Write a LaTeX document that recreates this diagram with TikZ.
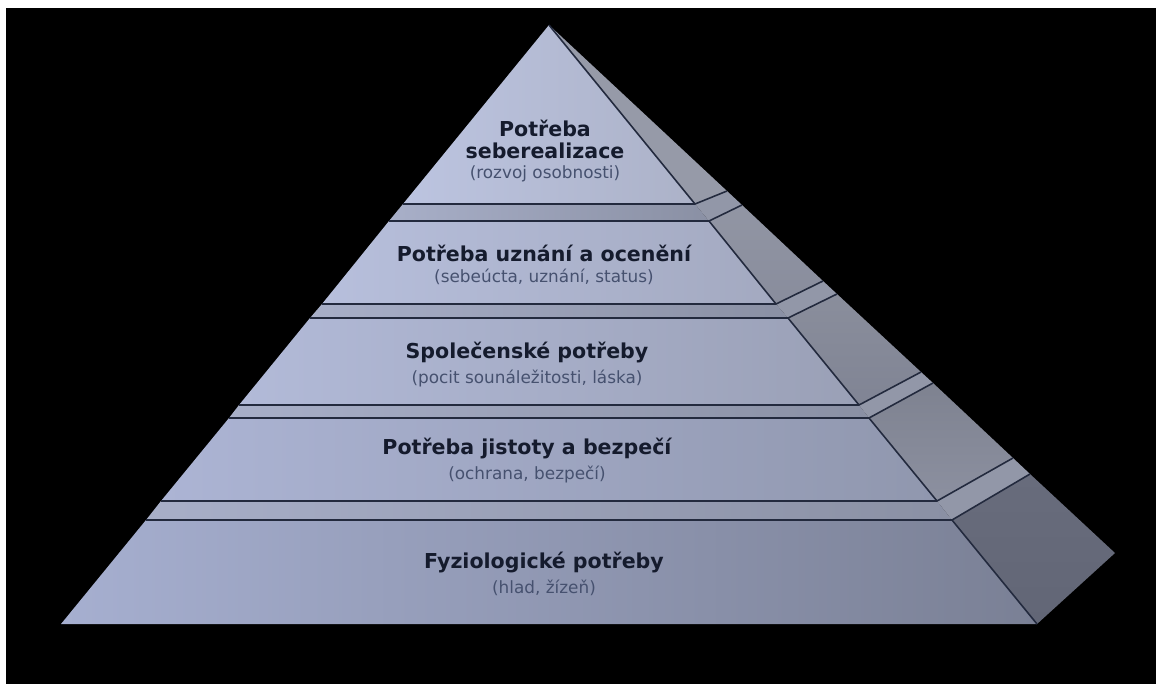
\documentclass[tikz,border=0pt]{standalone}
\usepackage{fontspec}
\setmainfont{DejaVu Sans}
\usetikzlibrary{positioning}

\definecolor{edgeline}{HTML}{232A3E}
\definecolor{titletxt}{HTML}{151B2D}
\definecolor{subtxt}{HTML}{46516F}
\definecolor{ledgel}{RGB}{168,175,200}
\definecolor{ledger}{RGB}{138,144,164}
\definecolor{ledgeside}{RGB}{146,151,168}
% front faces, left and right ends
\definecolor{faceAl}{RGB}{188,196,224} \definecolor{faceAr}{RGB}{172,178,200}
\definecolor{faceBl}{RGB}{183,191,220} \definecolor{faceBr}{RGB}{163,169,192}
\definecolor{faceCl}{RGB}{178,186,216} \definecolor{faceCr}{RGB}{154,160,182}
\definecolor{faceDl}{RGB}{172,180,212} \definecolor{faceDr}{RGB}{144,151,174}
\definecolor{faceEl}{RGB}{166,175,208} \definecolor{faceEr}{RGB}{122,128,149}
% side faces, top and bottom
\definecolor{sideA}{RGB}{150,154,168}
\definecolor{sideBt}{RGB}{146,150,164} \definecolor{sideBb}{RGB}{136,140,156}
\definecolor{sideCt}{RGB}{138,142,156} \definecolor{sideCb}{RGB}{128,132,148}
\definecolor{sideDt}{RGB}{126,130,144} \definecolor{sideDb}{RGB}{140,144,160}
\definecolor{sideEt}{RGB}{104,108,124} \definecolor{sideEb}{RGB}{98,102,118}

\begin{document}
\begin{tikzpicture}[x=0.02cm, y=-0.02cm,
	edge/.style={draw=edgeline, line width=0.9pt, line join=round},
	ledge/.style={left color=ledgel, right color=ledger},
	title/.style={font=\fontsize{11.7}{12.5}\selectfont\bfseries, text=titletxt, align=center, inner sep=0pt},
	subtitle/.style={font=\fontsize{9.6}{11}\selectfont, text=subtxt, inner sep=0pt}]
	% Background
	\fill [white] (0,0) rectangle (1156,684);
	\fill [black] (6,8) rectangle (1156,684);
	\useasboundingbox (0,0) rectangle (1156,684);

	% Front faces of the tiers
	\fill [left color=faceAl, right color=faceAr] (549,25) -- (695,204) -- (403,204) -- cycle;
	\fill [left color=faceBl, right color=faceBr] (389,221) -- (709,221) -- (776,304) -- (322,304) -- cycle;
	\fill [left color=faceCl, right color=faceCr] (310,318) -- (788,318) -- (859,405) -- (239,405) -- cycle;
	\fill [left color=faceDl, right color=faceDr] (229,418) -- (869,418) -- (937,501) -- (161,501) -- cycle;
	\fill [left color=faceEl, right color=faceEr] (146,520) -- (952,520) -- (1037,624) -- (61,624) -- cycle;

	% Ledges between the tiers
	\fill [ledge] (403,204) -- (695,204) -- (709,221) -- (389,221) -- cycle;
	\fill [ledge] (322,304) -- (776,304) -- (788,318) -- (310,318) -- cycle;
	\fill [ledge] (239,405) -- (859,405) -- (869,418) -- (229,418) -- cycle;
	\fill [ledge] (161,501) -- (937,501) -- (952,520) -- (146,520) -- cycle;
	\fill [ledgeside] (695,204) -- (727,191) -- (742,205) -- (709,221) -- cycle;
	\fill [ledgeside] (776,304) -- (823,281) -- (837,294) -- (788,318) -- cycle;
	\fill [ledgeside] (859,405) -- (921,372) -- (933,383) -- (869,418) -- cycle;
	\fill [ledgeside] (937,501) -- (1013,458) -- (1030,474) -- (952,520) -- cycle;

	% Side faces
	\fill [sideA] (549,25) -- (727,191) -- (695,204) -- cycle;
	\fill [top color=sideBt, bottom color=sideBb] (709,221) -- (742,205) -- (823,281) -- (776,304) -- cycle;
	\fill [top color=sideCt, bottom color=sideCb] (788,318) -- (837,294) -- (921,372) -- (859,405) -- cycle;
	\fill [top color=sideDt, bottom color=sideDb] (869,418) -- (933,383) -- (1013,458) -- (937,501) -- cycle;
	\fill [top color=sideEt, bottom color=sideEb] (952,520) -- (1030,474) -- (1115,553) -- (1037,624) -- cycle;

	% Edges
	\draw [edge] (403,204) -- (695,204) -- (549,25);
	\draw [edge] (695,204) -- (727,191);
	\draw [edge] (389,221) -- (709,221) -- (742,205);
	\draw [edge] (709,221) -- (776,304) -- (322,304);
	\draw [edge] (776,304) -- (823,281);
	\draw [edge] (310,318) -- (788,318) -- (837,294);
	\draw [edge] (788,318) -- (859,405) -- (239,405);
	\draw [edge] (859,405) -- (921,372);
	\draw [edge] (229,418) -- (869,418) -- (933,383);
	\draw [edge] (869,418) -- (937,501) -- (161,501);
	\draw [edge] (937,501) -- (1013,458);
	\draw [edge] (146,520) -- (952,520) -- (1030,474);
	\draw [edge] (952,520) -- (1037,624);

	% Labels
	\node [title] (t1) at (545,139) {Potřeba\\seberealizace};
	\node [subtitle] (s1) [below=4pt of t1] {(rozvoj osobnosti)};
	\node [title] (t2) at (544,253) {Potřeba uznání a ocenění};
	\node [subtitle] (s2) [below=4pt of t2] {(sebeúcta, uznání, status)};
	\node [title] (t3) at (527,352) {Společenské potřeby};
	\node [subtitle] (s3) [below=4pt of t3] {(pocit sounáležitosti, láska)};
	\node [title] (t4) at (527,448) {Potřeba jistoty a bezpečí};
	\node [subtitle] (s4) [below=4pt of t4] {(ochrana, bezpečí)};
	\node [title] (t5) at (544,562) {Fyziologické potřeby};
	\node [subtitle] (s5) [below=4pt of t5] {(hlad, žízeň)};
\end{tikzpicture}
\end{document}
